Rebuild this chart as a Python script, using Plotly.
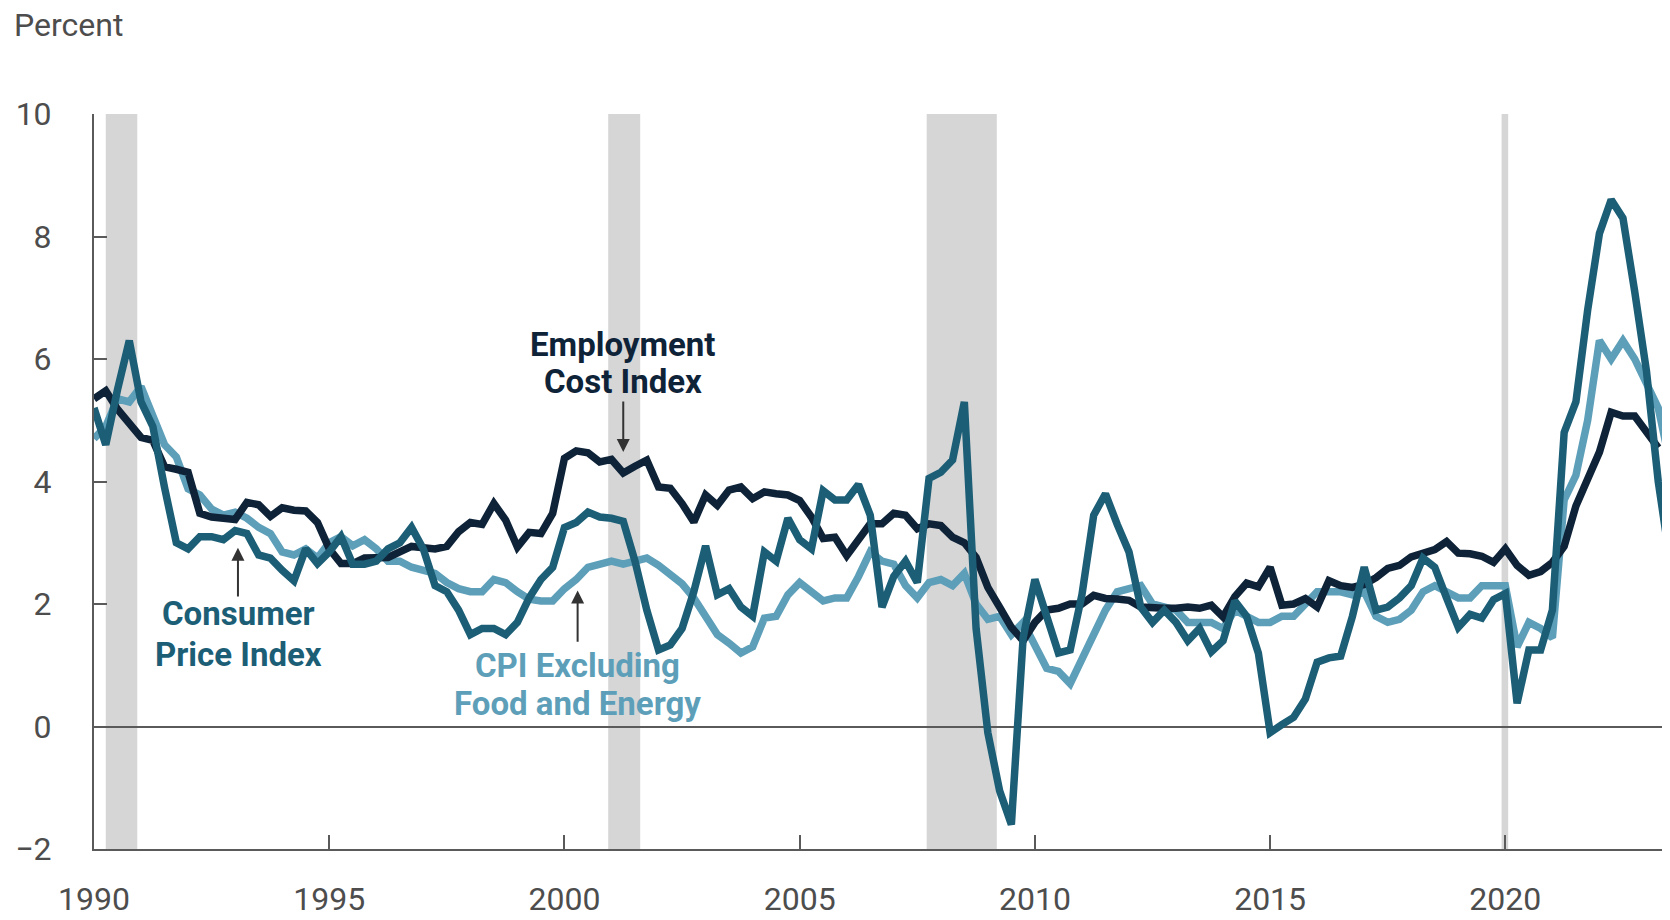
import plotly.graph_objects as go

# quarterly data, 1990Q1 onwards (12-month percent change)
eci = [5.35, 5.48, 5.18, 4.95, 4.72, 4.67, 4.24, 4.2, 4.15, 3.48, 3.42, 3.4,
       3.38, 3.66, 3.62, 3.43, 3.57, 3.53, 3.52, 3.33, 2.9, 2.66, 2.66, 2.75,
       2.75, 2.76, 2.85, 2.94, 2.92, 2.9, 2.94, 3.18, 3.33, 3.3, 3.64, 3.37,
       2.93, 3.17, 3.15, 3.48, 4.38, 4.5, 4.47, 4.32, 4.36, 4.14, 4.25, 4.35,
       3.91, 3.89, 3.64, 3.34, 3.78, 3.61, 3.86, 3.91, 3.72, 3.83, 3.8, 3.78,
       3.69, 3.42, 3.07, 3.09, 2.79, 3.07, 3.31, 3.31, 3.48, 3.45, 3.23, 3.31,
       3.28, 3.09, 3.0, 2.76, 2.27, 1.95, 1.62, 1.4, 1.7, 1.9, 1.93, 2.0,
       2.0, 2.14, 2.09, 2.08, 2.06, 1.95, 1.93, 1.93, 1.93, 1.95, 1.93, 1.98,
       1.79, 2.12, 2.34, 2.28, 2.6, 1.98, 2.0, 2.09, 1.95, 2.38, 2.3, 2.27,
       2.32, 2.43, 2.58, 2.63, 2.77, 2.84, 2.89, 3.02, 2.83, 2.82, 2.78, 2.68,
       2.9, 2.63, 2.47, 2.53, 2.68, 2.94, 3.6, 4.04, 4.48, 5.13, 5.07, 5.07,
       4.82, 4.55]

cpi = [5.2, 4.6, 5.5, 6.3, 5.3, 4.9, 3.9, 3.0, 2.9, 3.1, 3.1, 3.05,
       3.2, 3.15, 2.8, 2.75, 2.55, 2.38, 2.9, 2.66, 2.85, 3.1, 2.65, 2.65,
       2.7, 2.9, 3.0, 3.25, 2.9, 2.3, 2.2, 1.9, 1.5, 1.6, 1.6, 1.5,
       1.7, 2.1, 2.4, 2.6, 3.25, 3.33, 3.5, 3.42, 3.4, 3.35, 2.7, 1.9,
       1.25, 1.33, 1.6, 2.2, 2.95, 2.15, 2.25, 1.95, 1.8, 2.85, 2.7, 3.4,
       3.05, 2.9, 3.85, 3.7, 3.7, 3.95, 3.45, 1.95, 2.45, 2.7, 2.35, 4.05,
       4.15, 4.35, 5.3, 1.6, -0.1, -1.05, -1.6, 1.45, 2.4, 1.8, 1.2, 1.25,
       2.15, 3.45, 3.8, 3.3, 2.85, 1.95, 1.7, 1.9, 1.7, 1.4, 1.6, 1.22,
       1.4, 2.05, 1.8, 1.2, -0.1, 0.03, 0.15, 0.45, 1.05, 1.12, 1.15, 1.8,
       2.6, 1.9, 1.95, 2.1, 2.3, 2.75, 2.6, 2.1, 1.62, 1.83, 1.77, 2.07,
       2.17, 0.38, 1.25, 1.25, 1.9, 4.8, 5.3, 6.8, 8.05, 8.6, 8.3, 7.1,
       5.8, 4.0, 2.7]

core = [4.7, 4.9, 5.35, 5.3, 5.55, 5.1, 4.6, 4.4, 3.88, 3.78, 3.55, 3.45,
        3.5, 3.4, 3.25, 3.15, 2.85, 2.8, 2.9, 2.75, 3.0, 3.1, 2.95, 3.05,
        2.9, 2.7, 2.7, 2.6, 2.55, 2.5, 2.35, 2.25, 2.2, 2.2, 2.4, 2.35,
        2.2, 2.08, 2.05, 2.05, 2.25, 2.4, 2.6, 2.65, 2.7, 2.65, 2.7, 2.75,
        2.63, 2.49, 2.33, 2.1, 1.82, 1.5, 1.36, 1.2, 1.3, 1.77, 1.8, 2.15,
        2.35, 2.2, 2.05, 2.1, 2.1, 2.45, 2.85, 2.7, 2.65, 2.3, 2.1, 2.35,
        2.4, 2.3, 2.5, 2.0, 1.75, 1.8, 1.5, 1.7, 1.3, 0.95, 0.9, 0.7,
        1.1, 1.5, 1.9, 2.2, 2.25, 2.3, 2.0, 1.95, 1.9, 1.7, 1.7, 1.7,
        1.6, 1.9, 1.8, 1.7, 1.7, 1.8, 1.8, 2.0, 2.2, 2.2, 2.2, 2.15,
        2.2, 1.8, 1.7, 1.75, 1.9, 2.2, 2.3, 2.2, 2.1, 2.1, 2.3, 2.3,
        2.3, 1.3, 1.7, 1.6, 1.45, 3.7, 4.1, 5.0, 6.3, 6.0, 6.3, 6.0,
        5.6, 5.2, 4.3]

# recession shading (start, end) as drawn
recessions = [(1990.25, 1990.92), (2000.93, 2001.61), (2007.7, 2009.19), (2019.92, 2020.06)]

x_eci = [1990 + i * 0.25 for i in range(len(eci))]
x_cpi = [1990 + i * 0.25 for i in range(len(cpi))]
x_core = [1990 + i * 0.25 for i in range(len(core))]

navy = '#0e2338'
teal = '#1b5e76'
light = '#5d9fb9'
grey_txt = '#4d4d4d'
axis_col = '#5a5a5a'

fig = go.Figure()

fig.add_trace(go.Scatter(x=x_core, y=core, mode='lines', line=dict(color=light, width=7.5),
                         name='CPI Excluding Food and Energy'))
fig.add_trace(go.Scatter(x=x_eci, y=eci, mode='lines', line=dict(color=navy, width=7.5),
                         name='Employment Cost Index'))
fig.add_trace(go.Scatter(x=x_cpi, y=cpi, mode='lines', line=dict(color=teal, width=7.5),
                         name='Consumer Price Index'))

for start, end in recessions:
    fig.add_shape(type='rect', xref='x', yref='y', x0=start, x1=end, y0=-2, y1=10,
                  fillcolor='#d6d6d6', line=dict(width=0), layer='below')

font_b = 'Roboto'

def label(text, x, y, color):
    fig.add_annotation(x=x, y=y, xref='x', yref='y', text='<b>' + text + '</b>',
                       showarrow=False, xanchor='center', yanchor='middle',
                       font=dict(family=font_b, size=33, color=color))

def arrow(x, y_tail, y_tip):
    fig.add_annotation(x=x, y=y_tip, ax=x, ay=y_tail, xref='x', yref='y',
                       axref='x', ayref='y', text='', showarrow=True,
                       arrowhead=2, arrowsize=1.3, arrowwidth=2, arrowcolor='#333333')

label('Employment', 2001.25, 6.24, navy)
label('Cost Index', 2001.25, 5.63, navy)
arrow(2001.25, 5.33, 4.48)

label('Consumer', 1993.08, 1.84, teal)
label('Price Index', 1993.08, 1.17, teal)
arrow(1993.06, 2.1, 2.92)

label('CPI Excluding', 2000.28, 1.0, light)
label('Food and Energy', 2000.28, 0.38, light)
arrow(2000.28, 1.36, 2.22)

fig.add_annotation(x=-0.052, y=1.121, xref='paper', yref='paper', text='Percent',
                   showarrow=False, xanchor='left', yanchor='middle',
                   font=dict(family='Roboto', size=32, color=grey_txt))

# page body keeps an 8px margin, so the figure is 8px smaller than the window
fig.update_layout(
    width=1662, height=912,
    margin=dict(l=86, r=0, t=106, b=71),
    plot_bgcolor='white', paper_bgcolor='white',
    showlegend=False,
    font=dict(family='Roboto', size=32, color=grey_txt),
    xaxis=dict(range=[1990, 2023.5], tickvals=[1990, 1995, 2000, 2005, 2010, 2015, 2020],
               ticks='inside', ticklen=14, tickwidth=2, tickcolor=axis_col,
               showline=True, linecolor=axis_col, linewidth=2, automargin=False,
               showgrid=False, zeroline=False, ticklabelstandoff=21,
               tickfont=dict(family='Roboto', size=32, color=grey_txt)),
    yaxis=dict(range=[-2, 10], tickvals=[-2, 0, 2, 4, 6, 8, 10],
               ticks='inside', ticklen=13, tickwidth=2, tickcolor=axis_col,
               showline=True, linecolor=axis_col, linewidth=2, automargin=False,
               showgrid=False, zeroline=True, zerolinecolor=axis_col, zerolinewidth=1.5,
               ticklabelstandoff=34,
               tickfont=dict(family='Roboto', size=32, color=grey_txt)),
)

fig.write_html('out.html')
